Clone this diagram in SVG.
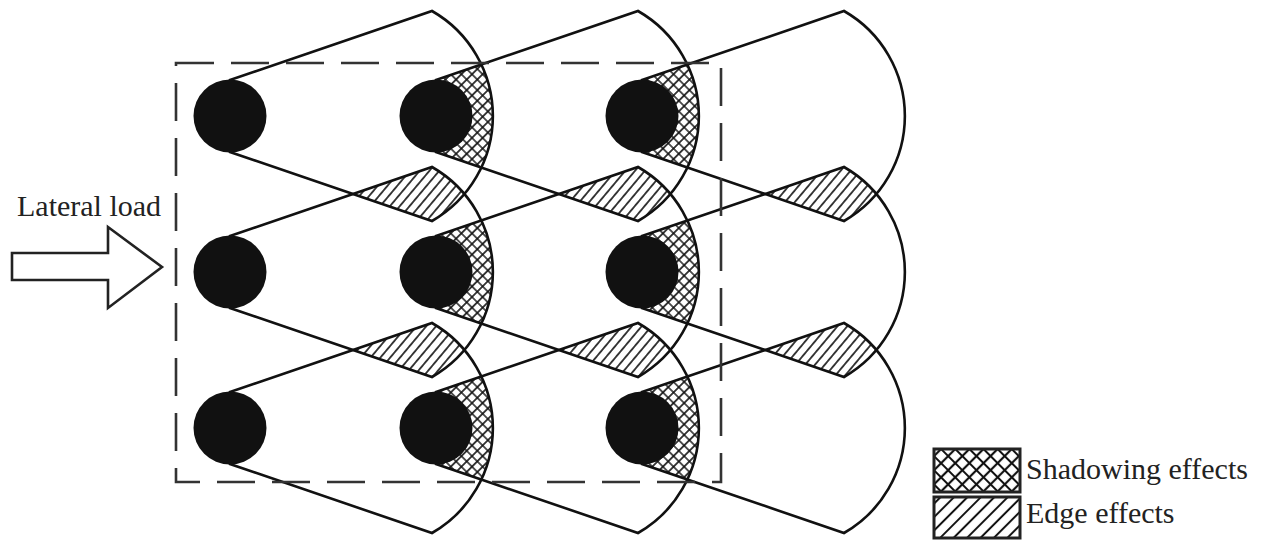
<svg xmlns="http://www.w3.org/2000/svg" width="1273" height="540" viewBox="0 0 1273 540">
<style>
.fan{fill:none;stroke:#111;stroke-width:2.6;stroke-linejoin:miter}
.pile{fill:#111}
.lbl{font-family:"Liberation Serif","Times New Roman",serif;font-size:30px;fill:#222}
.box{stroke:#222;stroke-width:3}
</style>
<defs>
<pattern id="xh" patternUnits="userSpaceOnUse" width="7.5" height="7.5" patternTransform="rotate(45)">
<path d="M0,3.75H7.5M3.75,0V7.5" stroke="#111" stroke-width="1.6" fill="none"/>
</pattern>
<pattern id="eh" patternUnits="userSpaceOnUse" width="7.5" height="7.5" patternTransform="rotate(40)">
<path d="M3.75,0V7.5" stroke="#111" stroke-width="1.6" fill="none"/>
</pattern>
<pattern id="xhL" patternUnits="userSpaceOnUse" width="10" height="10" patternTransform="translate(934,449) rotate(45)">
<path d="M0,5H10M5,0V10" stroke="#111" stroke-width="2.2" fill="none"/>
</pattern>
<pattern id="ehL" patternUnits="userSpaceOnUse" width="9.5" height="9.5" patternTransform="translate(934,497) rotate(45)">
<path d="M4.75,0V9.5" stroke="#111" stroke-width="2" fill="none"/>
</pattern>
<path id="p11" d="M230,80 L432,11 A121,121 0 0 1 432,221 L230,152 Z"/>
<path id="p21" d="M436,80 L638,11 A121,121 0 0 1 638,221 L436,152 Z"/>
<path id="p31" d="M642,80 L844,11 A121,121 0 0 1 844,221 L642,152 Z"/>
<path id="p12" d="M230,236 L432,167 A121,121 0 0 1 432,377 L230,308 Z"/>
<path id="p22" d="M436,236 L638,167 A121,121 0 0 1 638,377 L436,308 Z"/>
<path id="p32" d="M642,236 L844,167 A121,121 0 0 1 844,377 L642,308 Z"/>
<path id="p13" d="M230,392 L432,323 A121,121 0 0 1 432,533 L230,464 Z"/>
<path id="p23" d="M436,392 L638,323 A121,121 0 0 1 638,533 L436,464 Z"/>
<path id="p33" d="M642,392 L844,323 A121,121 0 0 1 844,533 L642,464 Z"/>
<clipPath id="c11"><use href="#p11"/></clipPath>
<clipPath id="c21"><use href="#p21"/></clipPath>
<clipPath id="c31"><use href="#p31"/></clipPath>
<clipPath id="c12"><use href="#p12"/></clipPath>
<clipPath id="c22"><use href="#p22"/></clipPath>
<clipPath id="c32"><use href="#p32"/></clipPath>
<clipPath id="c13"><use href="#p13"/></clipPath>
<clipPath id="c23"><use href="#p23"/></clipPath>
</defs>

<g id="shadowing-effects">
<g clip-path="url(#c11)"><use href="#p21" fill="url(#xh)"/></g>
<g clip-path="url(#c21)"><use href="#p31" fill="url(#xh)"/></g>
<g clip-path="url(#c12)"><use href="#p22" fill="url(#xh)"/></g>
<g clip-path="url(#c22)"><use href="#p32" fill="url(#xh)"/></g>
<g clip-path="url(#c13)"><use href="#p23" fill="url(#xh)"/></g>
<g clip-path="url(#c23)"><use href="#p33" fill="url(#xh)"/></g>
</g>

<g id="edge-effects">
<g clip-path="url(#c11)"><use href="#p12" fill="url(#eh)"/></g>
<g clip-path="url(#c21)"><use href="#p22" fill="url(#eh)"/></g>
<g clip-path="url(#c31)"><use href="#p32" fill="url(#eh)"/></g>
<g clip-path="url(#c12)"><use href="#p13" fill="url(#eh)"/></g>
<g clip-path="url(#c22)"><use href="#p23" fill="url(#eh)"/></g>
<g clip-path="url(#c32)"><use href="#p33" fill="url(#eh)"/></g>
</g>

<g id="connectors">
<use href="#p11" class="fan"/>
<use href="#p21" class="fan"/>
<use href="#p31" class="fan"/>
<use href="#p12" class="fan"/>
<use href="#p22" class="fan"/>
<use href="#p32" class="fan"/>
<use href="#p13" class="fan"/>
<use href="#p23" class="fan"/>
<use href="#p33" class="fan"/>
</g>

<rect id="pile-group-boundary" x="176" y="63" width="545" height="419" fill="none" stroke="#333" stroke-width="2.6" stroke-dasharray="38 17"/>

<g id="piles">
<g id="pile-1-1"><circle class="pile" cx="230" cy="116" r="36.5"/></g>
<g id="pile-2-1"><circle class="pile" cx="436" cy="116" r="36.5"/></g>
<g id="pile-3-1"><circle class="pile" cx="642" cy="116" r="36.5"/></g>
<g id="pile-1-2"><circle class="pile" cx="230" cy="272" r="36.5"/></g>
<g id="pile-2-2"><circle class="pile" cx="436" cy="272" r="36.5"/></g>
<g id="pile-3-2"><circle class="pile" cx="642" cy="272" r="36.5"/></g>
<g id="pile-1-3"><circle class="pile" cx="230" cy="428" r="36.5"/></g>
<g id="pile-2-3"><circle class="pile" cx="436" cy="428" r="36.5"/></g>
<g id="pile-3-3"><circle class="pile" cx="642" cy="428" r="36.5"/></g>
</g>

<g id="lateral-load">
<text class="lbl" x="17" y="216">Lateral load</text>
<polygon points="12,253 108,253 108,227 162,267 108,308 108,280 12,280" fill="#fff" stroke="#222" stroke-width="2.6" stroke-linejoin="miter"/>
</g>

<g id="legend">
<g id="legend-shadowing">
<rect class="box" x="934" y="449" width="86" height="43" fill="url(#xhL)"/>
<text class="lbl" x="1026" y="479">Shadowing effects</text>
</g>
<g id="legend-edge">
<rect class="box" x="934" y="497" width="86" height="41" fill="url(#ehL)"/>
<text class="lbl" x="1026" y="523">Edge effects</text>
</g>
</g>
</svg>
